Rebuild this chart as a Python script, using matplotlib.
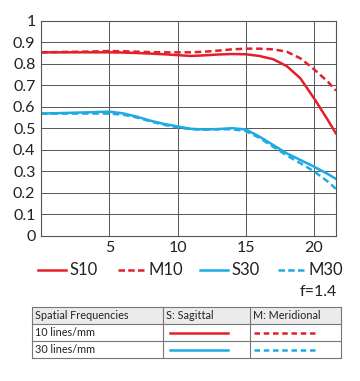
import matplotlib
matplotlib.use("Agg")
import matplotlib.pyplot as plt
from matplotlib.lines import Line2D
from matplotlib.patches import Rectangle
import numpy as np

plt.rcParams['font.family'] = ['Lato', 'DejaVu Sans']

RED = '#e3202a'
BLUE = '#1eaae2'

# Data (image height in mm vs MTF)
x = [0, 3, 5, 6, 7, 8, 9, 10, 11, 12, 13, 14, 15, 16, 17, 18, 19, 20, 21, 21.6]
s10 = [0.854, 0.854, 0.854, 0.853, 0.851, 0.848, 0.845, 0.841, 0.837, 0.840, 0.844, 0.846, 0.845, 0.837, 0.822, 0.790, 0.733, 0.640, 0.540, 0.477]
m10 = [0.854, 0.857, 0.860, 0.859, 0.857, 0.855, 0.854, 0.854, 0.854, 0.857, 0.862, 0.868, 0.871, 0.871, 0.868, 0.857, 0.826, 0.775, 0.718, 0.676]
s30 = [0.569, 0.574, 0.578, 0.570, 0.555, 0.536, 0.521, 0.509, 0.498, 0.495, 0.497, 0.501, 0.495, 0.462, 0.423, 0.384, 0.353, 0.322, 0.288, 0.265]
m30 = [0.569, 0.569, 0.569, 0.564, 0.551, 0.533, 0.517, 0.505, 0.496, 0.494, 0.496, 0.496, 0.488, 0.456, 0.415, 0.374, 0.338, 0.300, 0.253, 0.219]

series_labels = ['S10', 'M10', 'S30', 'M30']
xticks = [5, 10, 15, 20]
yticks = [0, 0.1, 0.2, 0.3, 0.4, 0.5, 0.6, 0.7, 0.8, 0.9, 1]
ytick_labels = ['0', '0.1', '0.2', '0.3', '0.4', '0.5', '0.6', '0.7', '0.8', '0.9', '1']

fig = plt.figure(figsize=(3.6, 3.81), dpi=100)
ax = fig.add_axes([0.114, 0.381, 0.819, 0.564])

lw = 1.8
dash = (0, (2.6, 1.5))
colors = [RED, RED, BLUE, BLUE]
styles = ['-', dash, '-', dash]
for ys, lab, c, st in zip([s10, m10, s30, m30], series_labels, colors, styles):
    ax.plot(x, ys, color=c, lw=lw, ls=st, label=lab)

ax.set_xlim(0, 21.6)
ax.set_ylim(0, 1)
ax.set_xticks(xticks)
ax.set_xticklabels([str(t) for t in xticks])
ax.set_yticks(yticks)
ax.set_yticklabels(ytick_labels)
ax.grid(True, color='#555555', lw=0.7)
ax.set_axisbelow(True)
for s in ax.spines.values():
    s.set_color('#555555')
    s.set_linewidth(0.8)
ax.tick_params(length=0, labelsize=11.5, colors='#222222', pad=4)

W, H = 360.0, 381.0

# Legend row (manual)
leg_y = 1 - 270 / H
handle_x = [38, 118, 200, 278]
for hx, lab, c, st in zip(handle_x, series_labels, colors, styles):
    ls = st if st == '-' else (0, (2.6, 1.3))
    fig.lines.append(Line2D([hx / W, (hx + 28) / W], [leg_y, leg_y],
                            transform=fig.transFigure, color=c, lw=lw, ls=ls))
    fig.text((hx + 31) / W, leg_y, lab, ha='left', va='center',
             fontsize=12, color='#222222')

fig.text(0.937, 1 - 292 / H, 'f=1.4', ha='right', va='center', fontsize=11.5, color='#222222')

# Table
cols = [32, 163, 250, 341]
rows = [307, 324, 341, 358]
edge = '#777777'
fig.patches.append(Rectangle((cols[0] / W, 1 - rows[1] / H), (cols[3] - cols[0]) / W,
                             (rows[1] - rows[0]) / H, transform=fig.transFigure,
                             facecolor='#ebebeb', edgecolor='none'))
for r in rows:
    fig.lines.append(Line2D([cols[0] / W, cols[3] / W], [1 - r / H, 1 - r / H],
                            transform=fig.transFigure, color=edge, lw=0.8))
for c in cols:
    fig.lines.append(Line2D([c / W, c / W], [1 - rows[0] / H, 1 - rows[3] / H],
                            transform=fig.transFigure, color=edge, lw=0.8))

headers = ['Spatial Frequencies', 'S: Sagittal', 'M: Meridional']
for i, h in enumerate(headers):
    fig.text((cols[i] + 3) / W, 1 - (rows[0] + rows[1]) / 2 / H, h,
             ha='left', va='center', fontsize=7.8, color='#222222')
row_labels = ['10 lines/mm', '30 lines/mm']
row_colors = [RED, BLUE]
for j, (lab, colr) in enumerate(zip(row_labels, row_colors)):
    yc = 1 - (rows[j + 1] + rows[j + 2]) / 2 / H
    fig.text((cols[0] + 3) / W, yc, lab, ha='left', va='center', fontsize=7.8, color='#222222')
    fig.lines.append(Line2D([170 / W, 228 / W], [yc, yc], transform=fig.transFigure,
                            color=colr, lw=1.8))
    fig.lines.append(Line2D([254 / W, 316 / W], [yc, yc], transform=fig.transFigure,
                            color=colr, lw=1.8, ls=(0, (2.2, 1.5))))

fig.savefig('out.png', dpi=100)
